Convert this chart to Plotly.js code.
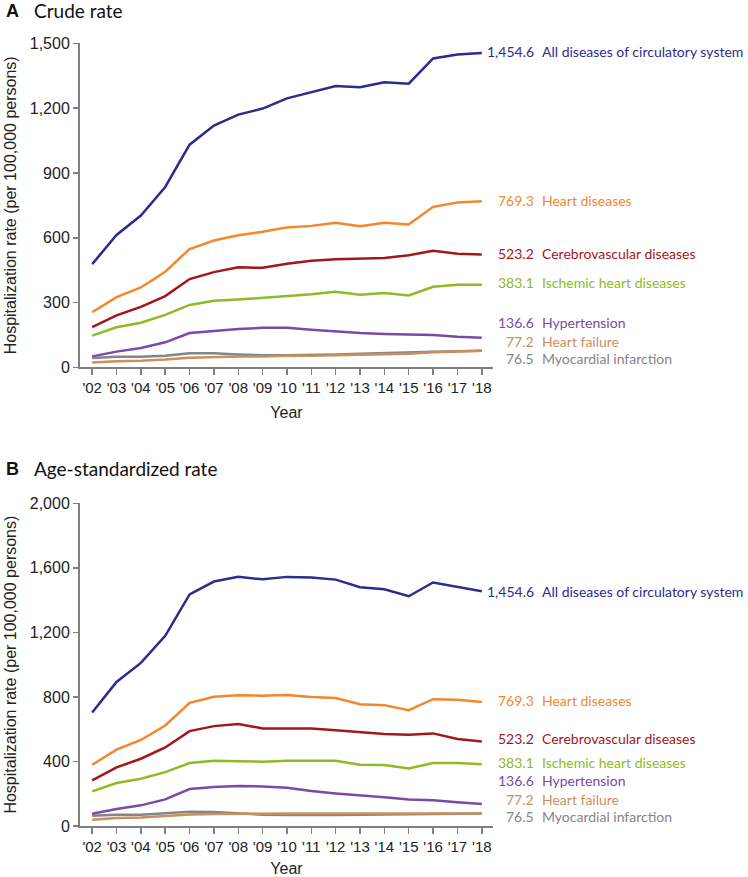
<!DOCTYPE html>
<html>
<head>
<meta charset="utf-8">
<script src="https://cdn.plot.ly/plotly-3.0.1.min.js"></script>
<style>
  html, body { margin: 0; padding: 0; background: #fff; }
  #chart { width: 748px; height: 877px; }
</style>
</head>
<body>
<div id="chart"></div>
<script>
// Years and tick labels
const years = [2002, 2003, 2004, 2005, 2006, 2007, 2008, 2009, 2010, 2011, 2012, 2013, 2014, 2015, 2016, 2017, 2018];
const yearLabels = ["'02", "'03", "'04", "'05", "'06", "'07", "'08", "'09", "'10", "'11", "'12", "'13", "'14", "'15", "'16", "'17", "'18"];

const seriesNames = ['All diseases of circulatory system', 'Heart diseases', 'Cerebrovascular diseases',
    'Ischemic heart diseases', 'Hypertension', 'Heart failure', 'Myocardial infarction'];
const seriesColors = ['#2f2a8e', '#f5862a', '#a3161a', '#8dbb25', '#7b49a6', '#c98f5e', '#858585'];
const endValues = [1454.6, 769.3, 523.2, 383.1, 136.6, 77.2, 76.5];

// A: crude rate (per 100,000 persons)
const crudeAll = [478, 613, 703, 835, 1031, 1119, 1170, 1198, 1245, 1274, 1302, 1297, 1320, 1313, 1430, 1448, 1455];
const crudeHeart = [255, 325, 370, 443, 548, 587, 612, 628, 648, 655, 670, 653, 669, 661, 743, 763, 769];
const crudeCerebro = [186, 241, 280, 330, 409, 441, 463, 461, 480, 494, 500, 502, 506, 519, 540, 526, 523];
const crudeIschemic = [147, 186, 207, 243, 289, 308, 314, 322, 333, 339, 350, 336, 344, 333, 373, 382, 383];
const crudeHypertension = [51, 73, 90, 116, 159, 170, 178, 183, 183, 174, 166, 159, 155, 152, 150, 142, 137];
const crudeHeartFailure = [23, 29, 31, 36, 45, 48, 50, 50, 54, 54, 56, 57, 60, 63, 70, 73, 77];
const crudeMyocardial = [43, 49, 49, 54, 65, 65, 60, 56, 56, 57, 60, 63, 67, 68, 73, 75, 77];

// B: age-standardized rate
const ageAll = [704, 893, 1011, 1179, 1435, 1515, 1544, 1529, 1544, 1540, 1527, 1480, 1467, 1424, 1509, 1480, 1455];
const ageHeart = [380, 473, 533, 623, 763, 801, 811, 808, 812, 800, 793, 755, 749, 718, 786, 782, 769];
const ageCerebro = [283, 363, 417, 487, 588, 619, 632, 605, 605, 605, 593, 582, 570, 566, 574, 539, 523];
const ageIschemic = [215, 266, 293, 334, 390, 404, 402, 398, 404, 402, 404, 380, 378, 357, 390, 390, 383];
const ageHypertension = [76, 105, 128, 165, 229, 241, 248, 245, 237, 217, 202, 188, 178, 165, 159, 147, 137];
const ageHeartFailure = [39, 50, 52, 60, 72, 74, 76, 76, 77, 77, 77, 77, 77, 77, 78, 78, 77];
const ageMyocardial = [64, 70, 70, 78, 89, 87, 78, 70, 68, 66, 68, 70, 70, 70, 74, 76, 77];

// where the end labels sit (axis units), nudged apart so they don't collide
const labelYA = [1462, 771, 526, 391, 206, 122, 39];
const labelYB = [1452, 780, 545, 396, 279, 167, 56];

const crudeSeries = [crudeAll, crudeHeart, crudeCerebro, crudeIschemic, crudeHypertension, crudeHeartFailure, crudeMyocardial];
const ageSeries = [ageAll, ageHeart, ageCerebro, ageIschemic, ageHypertension, ageHeartFailure, ageMyocardial];

// draw the small series first so the big ones sit on top
const drawOrder = [6, 5, 4, 3, 2, 1, 0];

function makeTraces(series, xa, ya) {
    return drawOrder.map((i) => ({
        type: 'scatter',
        mode: 'lines',
        x: years,
        y: series[i],
        xaxis: xa,
        yaxis: ya,
        name: seriesNames[i],
        line: { color: seriesColors[i], width: 2.5 },
        hoverinfo: 'skip'
    }));
}

function makeLabels(labelY, yref) {
    const out = [];
    seriesNames.forEach((name, i) => {
        out.push({
            xref: 'paper', yref: yref, x: 536 / 748, y: labelY[i],
            xanchor: 'right', yanchor: 'middle', showarrow: false,
            text: endValues[i].toLocaleString('en-US', { minimumFractionDigits: 1 }),
            font: { family: 'Lato', size: 14, color: seriesColors[i] }
        });
        out.push({
            xref: 'paper', yref: yref, x: 540 / 748, y: labelY[i],
            xanchor: 'left', yanchor: 'middle', showarrow: false,
            text: name,
            font: { family: 'Lato', size: 14, color: seriesColors[i] }
        });
    });
    return out;
}

const axisGrey = '#808080';
const textColor = '#222222';

function xAxis(anchor) {
    return {
        anchor: anchor,
        domain: [80 / 748, 493 / 748],
        range: [2001.5, 2018.46],
        tickvals: years,
        ticktext: yearLabels,
        ticks: 'outside',
        ticklen: 6,
        tickwidth: 1.5,
        tickcolor: axisGrey,
        showline: true,
        linecolor: axisGrey,
        linewidth: 2,
        showgrid: false,
        zeroline: false,
        tickfont: { size: 15, color: textColor },
        title: { text: 'Year', font: { size: 16, color: textColor }, standoff: 11 }
    };
}

function yAxis(anchor, domain, maxVal, step) {
    const vals = [];
    for (let v = 0; v <= maxVal; v += step) vals.push(v);
    return {
        anchor: anchor,
        domain: domain,
        range: [0, maxVal],
        tickvals: vals,
        tickformat: ',',
        ticks: 'outside',
        ticklen: 5,
        tickwidth: 1.5,
        tickcolor: axisGrey,
        showline: true,
        linecolor: axisGrey,
        linewidth: 2,
        showgrid: false,
        zeroline: false,
        tickfont: { size: 16, color: textColor },
        title: { text: 'Hospitalization rate (per 100,000 persons)', font: { size: 16, color: textColor }, standoff: 9 }
    };
}

const panelTitles = [
    { letter: 'A', text: 'Crude rate', y: 1 - 11 / 877 },
    { letter: 'B', text: 'Age-standardized rate', y: 1 - 469 / 877 }
];
const titleAnns = [];
panelTitles.forEach((p) => {
    titleAnns.push({
        xref: 'paper', yref: 'paper', x: 4 / 748, y: p.y, xanchor: 'left', yanchor: 'middle',
        showarrow: false, text: '<b>' + p.letter + '</b>',
        font: { family: 'Liberation Sans', size: 18, color: '#111' }
    });
    titleAnns.push({
        xref: 'paper', yref: 'paper', x: 32 / 748, y: p.y, xanchor: 'left', yanchor: 'middle',
        showarrow: false, text: p.text,
        font: { family: 'Lato', size: 19, color: '#111' }
    });
});

const data = [...makeTraces(crudeSeries, 'x', 'y'), ...makeTraces(ageSeries, 'x2', 'y2')];

const layout = {
    width: 748,
    height: 877,
    margin: { l: 0, r: 0, t: 0, b: 0 },
    paper_bgcolor: '#fff',
    plot_bgcolor: '#fff',
    showlegend: false,
    font: { family: 'Liberation Sans', color: textColor },
    xaxis: xAxis('y'),
    yaxis: yAxis('x', [1 - 367.4 / 877, 1 - 43.3 / 877], 1500, 300),
    xaxis2: xAxis('y2'),
    yaxis2: yAxis('x2', [1 - 826 / 877, 1 - 503.3 / 877], 2000, 400),
    annotations: [...titleAnns, ...makeLabels(labelYA, 'y'), ...makeLabels(labelYB, 'y2')]
};

Plotly.newPlot('chart', data, layout, { displayModeBar: false, staticPlot: true });
</script>
</body>
</html>
